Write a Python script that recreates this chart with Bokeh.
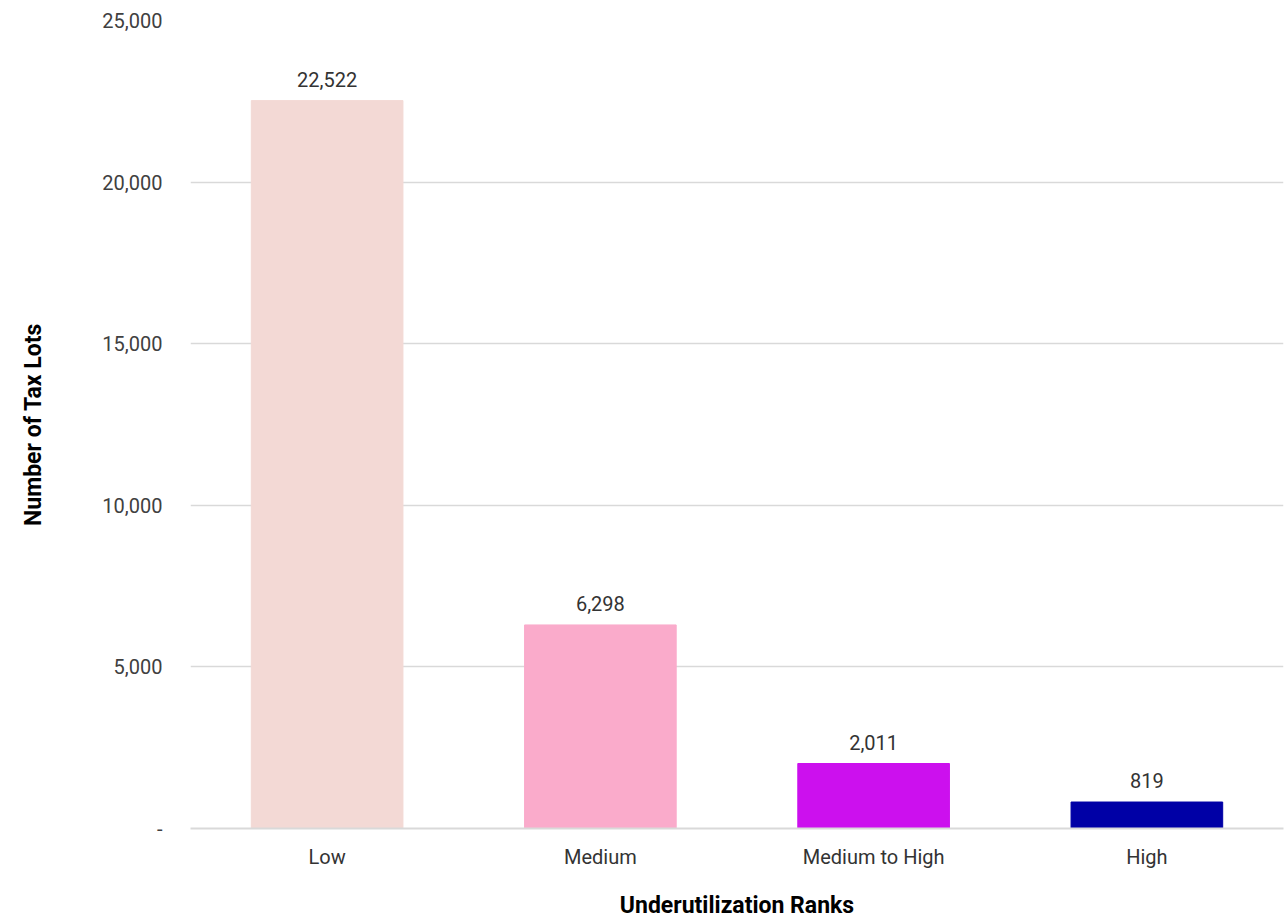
from bokeh.plotting import figure
from bokeh.models import ColumnDataSource, FactorRange, Range1d, CustomJSTickFormatter, LabelSet
from bokeh.core.properties import value
from bokeh.embed import file_html
from bokeh.resources import INLINE

categories = ["Low", "Medium", "Medium to High", "High"]
counts = [22522, 6298, 2011, 819]
colors = ["#F3D9D5", "#FAABCB", "#CC10EE", "#0000A6"]
y_ticks = [0, 5000, 10000, 15000, 20000, 25000]

labels = [f"{v:,}" for v in counts]
src = ColumnDataSource(dict(cat=categories, val=counts, col=colors, lab=labels))

FONT = "Roboto"

p = figure(x_range=FactorRange(*categories, range_padding=0), y_range=Range1d(0, 25000),
           width=1285, height=924, frame_width=1093, frame_height=808,
           output_backend="svg", toolbar_location=None,
           min_border_left=190, min_border_right=2, min_border_top=20, min_border_bottom=96)
p.outline_line_color = None
p.background_fill_color = "white"
p.border_fill_color = "white"

p.vbar(x="cat", top="val", width=0.555, color="col", source=src)

p.add_layout(LabelSet(x="cat", y="val", text="lab", source=src, text_align="center",
                      text_baseline="bottom", y_offset=14, text_font_size="20px",
                      text_color="#333333", text_font=value(FONT)))

p.xgrid.grid_line_color = None
p.ygrid.grid_line_color = "#D9D9D9"
p.ygrid.grid_line_width = 1.5
p.yaxis.ticker = y_ticks
p.yaxis.formatter = CustomJSTickFormatter(code='return tick == 0 ? "-" : tick.toLocaleString("en-US");')
p.yaxis.axis_line_color = None
p.yaxis.major_tick_line_color = None
p.yaxis.minor_tick_line_color = None
p.yaxis.major_label_standoff = 22
p.yaxis.major_label_text_font_size = "20px"
p.yaxis.major_label_text_color = "#404040"
p.yaxis.major_label_text_font = FONT
p.yaxis.axis_label = "Number of Tax Lots"
p.yaxis.axis_label_text_font = FONT
p.yaxis.axis_label_text_font_style = "bold"
p.yaxis.axis_label_text_font_size = "23px"
p.yaxis.axis_label_text_color = "#000000"
p.yaxis.axis_label_standoff = 52

p.xaxis.axis_line_color = "#D9D9D9"
p.xaxis.axis_line_width = 2
p.xaxis.major_tick_line_color = None
p.xaxis.minor_tick_line_color = None
p.xaxis.major_label_standoff = 10
p.xaxis.major_label_text_font_size = "20px"
p.xaxis.major_label_text_color = "#333333"
p.xaxis.major_label_text_font = FONT
p.xaxis.axis_label = "Underutilization Ranks"
p.xaxis.axis_label_text_font = FONT
p.xaxis.axis_label_text_font_style = "bold"
p.xaxis.axis_label_text_font_size = "23px"
p.xaxis.axis_label_text_color = "#000000"
p.xaxis.axis_label_standoff = 20

open("out.html", "w").write(file_html(p, INLINE))
